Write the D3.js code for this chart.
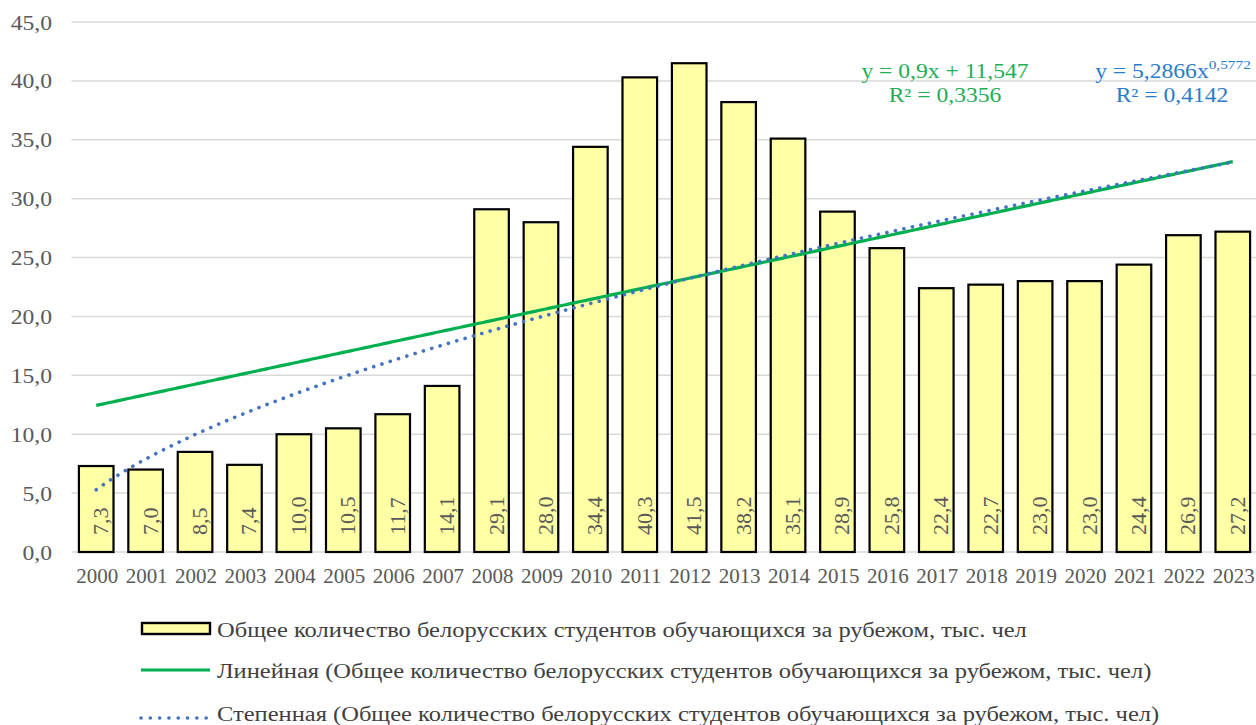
<!DOCTYPE html>
<html>
<head>
<meta charset="utf-8">
<script src="https://cdn.jsdelivr.net/npm/d3@7"></script>
<style>
  html, body { margin: 0; padding: 0; background: #fff; }
  svg { display: block; }
  text { font-family: "Liberation Serif", "Times New Roman", serif; }
</style>
</head>
<body>
<svg id="chart" width="1256" height="725"></svg>
<script>
// Years and number of Belarusian students studying abroad, thousand people
const years = ["2000","2001","2002","2003","2004","2005","2006","2007","2008","2009","2010","2011",
               "2012","2013","2014","2015","2016","2017","2018","2019","2020","2021","2022","2023"];
const students = [7.3, 7.0, 8.5, 7.4, 10.0, 10.5, 11.7, 14.1, 29.1, 28.0, 34.4, 40.3,
                  41.5, 38.2, 35.1, 28.9, 25.8, 22.4, 22.7, 23.0, 23.0, 24.4, 26.9, 27.2];
const yTicks = [0, 5, 10, 15, 20, 25, 30, 35, 40, 45];

// Trendline coefficients as printed on the chart
const linearCoef = { slope: 0.9, intercept: 11.547 };
const powerCoef = { a: 5.2866, b: 0.5772 };
const linearLabel = ["y = 0,9x + 11,547", "R² = 0,3356"];
const powerLabel = { base: "y = 5,2866x", exp: "0,5772", r2: "R² = 0,4142" };

const legendLabels = [
  "Общее количество белорусских студентов обучающихся за рубежом, тыс. чел",
  "Линейная (Общее количество белорусских студентов обучающихся за рубежом, тыс. чел)",
  "Степенная (Общее количество белорусских студентов обучающихся за рубежом, тыс. чел)"
];

const colors = {
  grid: "#d9d9d9", tick: "#595959", barFill: "#ffffa6", barStroke: "#000",
  linear: "#00b050", power: "#4472c4", linearText: "#1fae55", powerText: "#2a7ccb",
  legendText: "#404040"
};

const ru = d3.formatLocale({ decimal: ",", thousands: " ", grouping: [3], currency: ["", ""] });
const fmt1 = ru.format(".1f");

const svg = d3.select("#chart");

// Places a text with a horizontal stretch around its anchor point
function wideText(sel, px, py, sx) {
  return sel.attr("transform", (d, i) => {
    const X = typeof px === "function" ? px(d, i) : px;
    const Y = typeof py === "function" ? py(d, i) : py;
    return `translate(${X},${Y}) scale(${sx},1)`;
  });
}

const x = d3.scaleBand().domain(years).range([71.5, 1257.5]).paddingInner(0.3).paddingOuter(0.15);
const y = d3.scaleLinear().domain([0, 45]).range([552, 22]);

// Horizontal gridlines
svg.append("g").selectAll("line").data(yTicks).join("line")
  .attr("x1", 71.5).attr("x2", 1256)
  .attr("y1", d => y(d)).attr("y2", d => y(d))
  .attr("stroke", colors.grid).attr("stroke-width", 1.5);

// Y axis labels
wideText(svg.append("g").selectAll("text").data(yTicks).join("text"), 52, d => y(d) + 7.5, 1.18)
  .attr("text-anchor", "end")
  .attr("font-size", 20).attr("fill", colors.tick)
  .text(d => fmt1(d));

// X axis labels
wideText(svg.append("g").selectAll("text").data(years).join("text"),
    d => x(d) + x.bandwidth() / 2 + 1, 583, 1.05)
  .attr("text-anchor", "middle")
  .attr("font-size", 20).attr("fill", colors.tick)
  .text(d => d);

// Bars
svg.append("g").selectAll("rect").data(students).join("rect")
  .attr("x", (d, i) => x(years[i]))
  .attr("y", d => y(d))
  .attr("width", x.bandwidth())
  .attr("height", d => y(0) - y(d))
  .attr("fill", colors.barFill)
  .attr("stroke", colors.barStroke).attr("stroke-width", 2.2);

// Value labels at bar base, rotated
svg.append("g").selectAll("text").data(students).join("text")
  .attr("transform", (d, i) =>
    `translate(${x(years[i]) + x.bandwidth() / 2 + 12},535) rotate(-90) scale(1.1,1)`)
  .attr("text-anchor", "start")
  .attr("font-size", 20).attr("fill", colors.tick)
  .text(d => fmt1(d));

// Trendlines over the category index t = 1..24
const tx = d3.scaleLinear().domain([1, years.length])
  .range([x(years[0]) + x.bandwidth() / 2, x(years[years.length - 1]) + x.bandwidth() / 2]);
const tSamples = d3.range(1, years.length + 0.001, 0.05);

const line = d3.line().x(d => tx(d.t)).y(d => y(d.v));

svg.append("path")
  .datum(tSamples.map(t => ({ t, v: linearCoef.slope * t + linearCoef.intercept })))
  .attr("d", line)
  .attr("fill", "none").attr("stroke", colors.linear).attr("stroke-width", 3.2);

svg.append("path")
  .datum(tSamples.map(t => ({ t, v: powerCoef.a * Math.pow(t, powerCoef.b) })))
  .attr("d", line)
  .attr("fill", "none").attr("stroke", colors.power).attr("stroke-width", 3.6)
  .attr("stroke-linecap", "round").attr("stroke-dasharray", "0.1 8.6");

// Trendline equations
const eq = svg.append("g").attr("font-size", 20);
wideText(eq.append("text"), 945, 77.5, 1.18).attr("text-anchor", "middle")
  .attr("fill", colors.linearText).text(linearLabel[0]);
wideText(eq.append("text"), 945, 102, 1.18).attr("text-anchor", "middle")
  .attr("fill", colors.linearText).text(linearLabel[1]);
const pw = wideText(eq.append("text"), 1173, 77.5, 1.18).attr("text-anchor", "middle")
  .attr("fill", colors.powerText);
pw.append("tspan").text(powerLabel.base);
pw.append("tspan").attr("font-size", 13).attr("dy", -9).text(powerLabel.exp);
wideText(eq.append("text"), 1172, 102, 1.18).attr("text-anchor", "middle")
  .attr("fill", colors.powerText).text(powerLabel.r2);

// Legend
const lg = svg.append("g");
const symY = [628.5, 670, 718];
const textY = [637, 678, 721];
lg.append("rect").attr("x", 142).attr("y", 623).attr("width", 68).attr("height", 11)
  .attr("fill", colors.barFill).attr("stroke", colors.barStroke).attr("stroke-width", 2.4);
lg.append("line").attr("x1", 141).attr("x2", 210).attr("y1", symY[1]).attr("y2", symY[1])
  .attr("stroke", colors.linear).attr("stroke-width", 3.2);
lg.append("line").attr("x1", 141).attr("x2", 210).attr("y1", symY[2]).attr("y2", symY[2])
  .attr("stroke", colors.power).attr("stroke-width", 3.6)
  .attr("stroke-linecap", "round").attr("stroke-dasharray", "0.1 9.2");
wideText(lg.selectAll("text.leg").data(legendLabels).join("text").attr("class", "leg"),
    217, (d, i) => textY[i], 1.225)
  .attr("font-size", 20).attr("fill", colors.legendText)
  .text(d => d);
</script>
</body>
</html>
